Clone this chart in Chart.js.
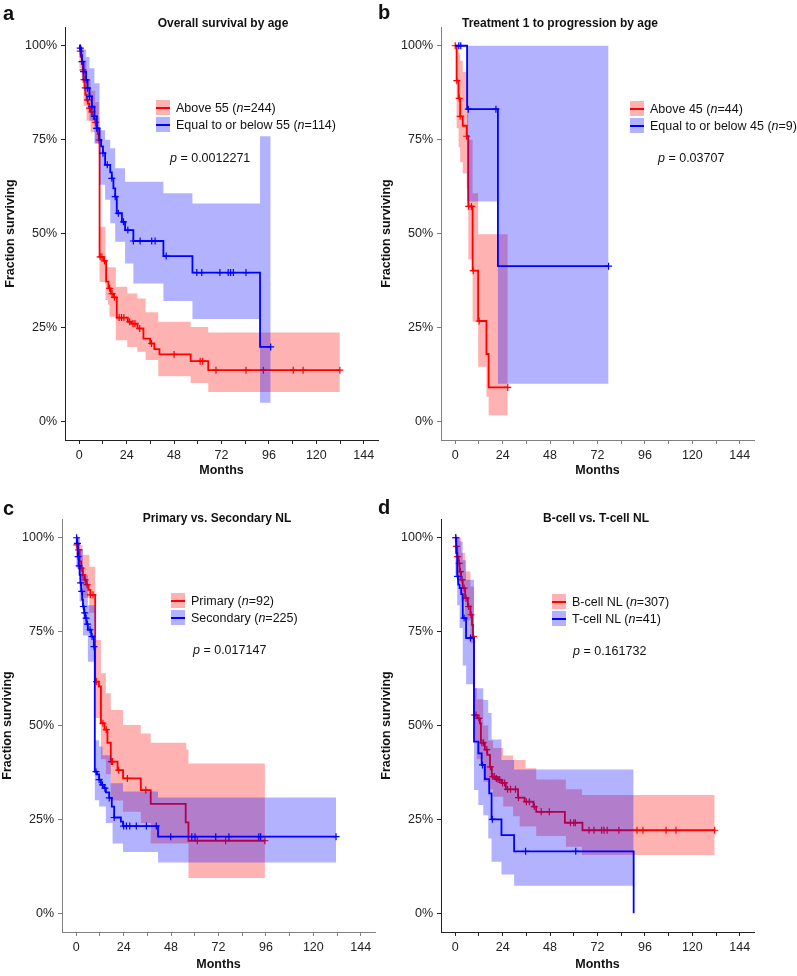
<!DOCTYPE html>
<html lang="en">
<head>
<meta charset="UTF-8" />
<title>Survival curves</title>
<script src="https://cdn.jsdelivr.net/npm/chart.js@4.4.1/dist/chart.umd.min.js"></script>
<style>
  body { margin: 0; width: 797px; height: 976px; position: relative; background: #fff; overflow: hidden;
         font-family: "Liberation Sans", Arial, Helvetica, sans-serif; color: #111; }
  canvas.panel { position: absolute; }
  .tag { position: absolute; font-weight: bold; font-size: 20px; line-height: 20px; }
  .title { position: absolute; font-weight: bold; font-size: 12px; line-height: 14px; white-space: nowrap; transform: translateX(-50%); }
  .legend { position: absolute; font-size: 12.5px; white-space: nowrap; }
  .legend .row { display: flex; align-items: center; height: 17px; }
  .sw { width: 14px; height: 15px; position: relative; margin-right: 6px; }
  .sw i { position: absolute; left: 0; right: 0; top: 6.5px; height: 2px; }
  .pval { position: absolute; font-size: 12.5px; line-height: 15px; white-space: nowrap; }
</style>
</head>
<body>

<canvas id="pa" class="panel" width="398" height="488" style="left:0;top:0"></canvas>
<canvas id="pb" class="panel" width="398" height="488" style="left:376px;top:0"></canvas>
<canvas id="pc" class="panel" width="398" height="488" style="left:-3px;top:492px"></canvas>
<canvas id="pd" class="panel" width="398" height="488" style="left:376px;top:492px"></canvas>

<div class="tag" style="left:3px;top:3px">a</div>
<div class="tag" style="left:378px;top:2px">b</div>
<div class="tag" style="left:3px;top:498px">c</div>
<div class="tag" style="left:378px;top:497px">d</div>

<div class="title" style="left:223px;top:16px">Overall survival by age</div>
<div class="title" style="left:560px;top:16px">Treatment 1 to progression by age</div>
<div class="title" style="left:217px;top:511px">Primary vs. Secondary NL</div>
<div class="title" style="left:596px;top:511px">B-cell vs. T-cell NL</div>

<div class="legend" style="left:156px;top:99px">
  <div class="row"><span class="sw" style="background:rgba(255,0,0,0.3)"><i style="background:#f00"></i></span>Above 55 (<i>n</i>=244)</div>
  <div class="row"><span class="sw" style="background:rgba(0,0,255,0.3)"><i style="background:#00f"></i></span>Equal to or below 55 (<i>n</i>=114)</div>
</div>
<div class="legend" style="left:630px;top:100px">
  <div class="row"><span class="sw" style="background:rgba(255,0,0,0.3)"><i style="background:#f00"></i></span>Above 45 (<i>n</i>=44)</div>
  <div class="row"><span class="sw" style="background:rgba(0,0,255,0.3)"><i style="background:#00f"></i></span>Equal to or below 45 (<i>n</i>=9)</div>
</div>
<div class="legend" style="left:171px;top:592px">
  <div class="row"><span class="sw" style="background:rgba(255,0,0,0.3)"><i style="background:#f00"></i></span>Primary (<i>n</i>=92)</div>
  <div class="row"><span class="sw" style="background:rgba(0,0,255,0.3)"><i style="background:#00f"></i></span>Secondary (<i>n</i>=225)</div>
</div>
<div class="legend" style="left:552px;top:593px">
  <div class="row"><span class="sw" style="background:rgba(255,0,0,0.3)"><i style="background:#f00"></i></span>B-cell NL (<i>n</i>=307)</div>
  <div class="row"><span class="sw" style="background:rgba(0,0,255,0.3)"><i style="background:#00f"></i></span>T-cell NL (<i>n</i>=41)</div>
</div>

<div class="pval" style="left:170px;top:151px"><i>p</i> = 0.0012271</div>
<div class="pval" style="left:658px;top:151px"><i>p</i> = 0.03707</div>
<div class="pval" style="left:193px;top:643px"><i>p</i> = 0.017147</div>
<div class="pval" style="left:573px;top:644px"><i>p</i> = 0.161732</div>

<script>
  // axis ticks
  const xTickVals = [0, 12, 24, 36, 48, 60, 72, 84, 96, 108, 120, 132, 144];
  const yTickVals = [0, 25, 50, 75, 100];

  // ---- a: overall survival by age ----
  const aRedTime = [0, 0.3, 0.8, 1.3, 1.8, 2.2, 2.7, 3.1, 3.7, 4.3, 5, 5.8, 6.5, 7.3, 8.1, 8.8, 9.4, 9.9, 10.3, 12.3, 13.6, 14.8, 16, 17.3, 19, 24.6, 26.5, 29.5, 32.5, 35.9, 38, 40.6, 56.4, 65.3, 131.9];
  const aRedSurv = [100, 98.6, 97, 95.2, 93.6, 91, 88.8, 86.9, 85.6, 84.6, 83.4, 82.4, 81.4, 80.5, 79.6, 78, 76.5, 74.9, 43.8, 42.7, 37.2, 35.4, 34, 33, 27.6, 26.5, 26, 24.7, 22, 20.7, 19.2, 17.8, 16, 13.6, 13.6];
  const aRedCens = [0.5, 1.9, 2.4, 3.0, 4.2, 5.2, 6.4, 8.3, 8.9, 10.1, 10.6, 11.5, 12.8, 15.4, 16.6, 17.8, 20.2, 21.4, 22.6, 25.5, 27.2, 28.2, 30.6, 36.6, 48, 61.2, 62.5, 69.2, 84.4, 93.2, 108.3, 113.3, 131.9];
  const aRedCiTime = [0, 1.3, 2.2, 3.7, 5.8, 8.1, 9.9, 10.3, 13.3, 14.5, 15.3, 18.5, 24.3, 29.4, 33.6, 40, 56.4, 65.3, 131.9];
  const aRedCiHi = [100, 99.5, 96, 91, 88, 85, 81, 51.8, 41, 41, 41, 35.8, 34, 32.7, 29, 26.5, 25.1, 23.6, 23.6];
  const aRedCiLo = [94, 90, 84, 80, 77, 74, 71, 37.1, 32.3, 31, 27.8, 21.6, 19.8, 18.5, 16.3, 12, 10.2, 7.8, 7.8];

  const aBlueTime = [0, 0.5, 1, 1.4, 2.2, 3.5, 4.2, 5.2, 6.4, 7.7, 8.9, 10.3, 11.1, 12, 13.1, 15.7, 16.5, 17.3, 18.2, 19, 21.6, 23.2, 27.4, 42.6, 57.3, 91.5, 96.9];
  const aBlueSurv = [100, 99.4, 97.5, 95.8, 93.1, 90.9, 88.7, 86.5, 83.8, 81.2, 78, 74.9, 73.2, 71.4, 68.3, 66.3, 64.7, 62, 59.8, 55.4, 53.1, 50.9, 48, 44, 39.6, 19.8, 19.8];
  const aBlueCens = [0.5, 1.4, 2.2, 3.5, 4.2, 5.2, 6.4, 7.7, 8.9, 12, 14.2, 16.5, 18.2, 19.8, 22.4, 24.6, 27.4, 30.8, 36.7, 38.4, 44, 59.5, 62, 71.2, 75.4, 76.6, 78, 84.4, 96.9];
  const aBlueCiTime = [0, 1.4, 3.5, 5.2, 7.7, 10.3, 13.1, 15.7, 18.2, 23.2, 27.4, 42.6, 57.3, 91.5, 96.9];
  const aBlueCiHi = [100, 99, 97, 94, 90, 77.5, 75, 72.7, 67.4, 63.8, 63.8, 60.7, 58, 75.9, 75.9];
  const aBlueCiLo = [97, 91, 85, 80, 74, 63, 59, 52.7, 47.8, 42, 36.7, 32, 27.2, 4.9, 4.9];

  // ---- b: treatment 1 to progression by age ----
  const bRedTime = [0, 0.7, 1.7, 2.5, 3.8, 5.8, 6.6, 8.8, 11.6, 15.8, 16.9, 26.6];
  const bRedSurv = [100, 90.7, 86, 81.2, 78.7, 75.9, 57.2, 40.1, 26.7, 17.9, 9, 9];
  const bRedCens = [0, 0.8, 2, 2.5, 5.8, 6.8, 8.2, 9.1, 12.1, 26.6];
  const bRedCiTime = [0, 0.7, 1.7, 2.5, 3.8, 5.8, 6.6, 8.8, 11.6, 15.8, 16.9, 26.6];
  const bRedCiHi = [100, 100, 98, 96, 93, 91, 75, 60.7, 49.8, 49.8, 49.8, 49.8];
  const bRedCiLo = [100, 78, 73, 69, 66, 62, 43.1, 26.5, 14.5, 6.5, 1.6, 1.6];

  const bBlueTime = [0, 6, 21.6, 77.6];
  const bBlueSurv = [100, 83.1, 41.3, 41.3];
  const bBlueCens = [1.8, 2.8, 6.6, 20.6, 77.6];
  const bBlueCiTime = [0, 6, 21.6, 77.6];
  const bBlueCiHi = [100, 100, 100, 100];
  const bBlueCiLo = [100, 58.5, 10, 10];

  // ---- c: primary vs secondary ----
  const cRedTime = [0, 0.3, 0.8, 1.7, 2.5, 3.4, 4.2, 5.1, 6.2, 7.2, 9.6, 11.5, 12.5, 14.3, 15.8, 17.5, 20.9, 23.7, 32.7, 37.7, 55.4, 56.8, 95.5];
  const cRedSurv = [100, 98.1, 96.8, 93.7, 91.9, 90.1, 88.8, 87.5, 86.1, 84.8, 61.7, 60.4, 50.6, 48.9, 45.4, 40.4, 38.1, 35.9, 32.8, 29.1, 24.2, 19.3, 19.3];
  const cRedCens = [0.3, 1.2, 2.5, 3.4, 4.5, 5.5, 7.2, 8.5, 10.2, 13.5, 15.2, 17.8, 18.4, 21.5, 25.9, 35.2, 61.3, 75.6, 95.5];
  const cRedCiTime = [0, 1.7, 3.2, 6.6, 9.6, 12.5, 15, 17.5, 23.7, 32.7, 37.7, 55.7, 56.8, 95.5];
  const cRedCiHi = [100, 98, 95.5, 92.3, 72.8, 63.9, 58.6, 54.1, 50.1, 47.9, 45.4, 43.6, 39.9, 39.9];
  const cRedCiLo = [95, 89, 84, 80, 52, 41, 37, 30, 27, 24, 18.6, 18.6, 9.4, 9.4];

  const cBlueTime = [0, 0.3, 0.8, 1.2, 1.7, 2.1, 2.5, 3, 3.4, 4, 4.5, 5.2, 5.9, 7.6, 8.9, 9.4, 10.5, 11.6, 12.5, 14.1, 15, 16.7, 18, 19.2, 22.6, 23.7, 41.4, 131.5];
  const cBlueSurv = [100, 98.5, 95, 92.5, 90.1, 88, 85.7, 83.5, 81.7, 80, 78.6, 77, 75.5, 73.7, 71, 37.7, 37, 35.6, 34.2, 33.3, 32.2, 30.7, 28.4, 25.5, 24.4, 23.2, 20.4, 20.4];
  const cBlueCens = [0.2, 0.6, 1, 1.5, 2.2, 2.8, 3.6, 4.3, 5, 5.7, 7, 8, 9, 10, 11.6, 13.3, 14.5, 16.7, 19.2, 24, 25.4, 27.1, 30.4, 35.5, 40.5, 47.8, 58.5, 60.1, 70.6, 77.3, 92.4, 93.3, 131.5];
  const cBlueCiTime = [0, 1.7, 3.4, 5.9, 9.4, 11.6, 13.3, 15, 17.5, 18.4, 23.7, 41.4, 131.5];
  const cBlueCiHi = [100, 97, 90, 82, 46.1, 44.4, 42.1, 42.1, 34.6, 34.6, 32.4, 30.8, 30.8];
  const cBlueCiLo = [92, 83, 74, 67, 30.1, 28.4, 28.4, 24, 24, 18.6, 16.3, 13.5, 13.5];

  // ---- d: B-cell vs T-cell ----
  const dRedTime = [0, 0.3, 0.5, 1, 1.7, 2.2, 3, 3.8, 5, 6.4, 7.7, 8.5, 9, 9.5, 11.2, 12.5, 13, 15, 16.2, 17.6, 18.5, 20.1, 21.7, 23.4, 25.6, 31.8, 35.1, 39.6, 41, 55.5, 64.4, 131.3];
  const dRedSurv = [100, 99, 97.7, 95, 93.2, 91, 88.8, 86.6, 83.9, 81.7, 79.5, 76.8, 73.7, 52.8, 51.9, 50.6, 45.4, 43.6, 42.2, 39, 36.4, 35.9, 35.6, 34.7, 33, 30.8, 29.7, 28.4, 27, 24.1, 22.1, 22.1];
  const dRedCens = [0.2, 0.6, 1.2, 2, 2.6, 3.5, 4.5, 5.5, 6.8, 8, 9.2, 9.7, 10.5, 12, 13.5, 14.3, 16, 17.8, 19, 19.8, 20.8, 21.7, 22.5, 24, 25, 26.5, 28, 30.5, 32, 36, 37.5, 40, 43.5, 47.6, 58.3, 60, 60.8, 67.7, 70.2, 74.1, 75.3, 76.9, 82.8, 92, 95, 106.7, 111.7, 131.3];
  const dRedCiTime = [0, 1, 3, 5, 7.7, 9.5, 10.9, 14.2, 16.7, 19.2, 24.3, 29.3, 32.6, 35.6, 41, 56, 64.1, 131.3];
  const dRedCiHi = [100, 100, 96, 91, 87, 60, 57, 50, 46, 44, 42, 40.8, 40.8, 38.6, 35.6, 33, 31.5, 31.5];
  const dRedCiLo = [96, 88, 83, 78, 72, 46, 41, 35, 33, 31, 28.4, 25.8, 23.1, 23.1, 20.6, 17.7, 15.5, 15.5];

  const dBlueTime = [0, 0.5, 1, 1.5, 2.2, 3, 3.8, 5.5, 9.5, 11.7, 13.4, 15, 17.2, 18.4, 23.4, 29.8, 90.3];
  const dBlueSurv = [100, 96, 89.7, 87.5, 86.6, 85, 78.6, 73.3, 45.7, 42.6, 39.5, 35.7, 31.9, 25, 20.8, 16.5, 0];
  const dBlueCens = [0.3, 1.2, 4.5, 7.7, 13.8, 18.8, 35.6, 61];
  const dBlueCiTime = [0, 1, 2.2, 3.8, 5.5, 9.5, 11.7, 14.2, 16.7, 18.4, 23.4, 29.8, 90.3];
  const dBlueCiHi = [100, 100, 99, 94, 88.8, 59.9, 59.9, 56.8, 53.3, 46.3, 40.8, 38.3, 38.3];
  const dBlueCiLo = [90, 82, 76, 66, 61, 32.8, 28.8, 26.1, 19.9, 13.7, 10.3, 7.3, 7.3];

  const RED = '#ff0000', BLUE = '#0000ff';
  const RED_BAND = 'rgba(255,0,0,0.3)', BLUE_BAND = 'rgba(0,0,255,0.3)';
  const FONT = '"Liberation Sans", Arial, Helvetica, sans-serif';

  // survival value in effect at time t (step function)
  function stepAt(ts, vs, t) {
    let v = vs[0];
    for (let i = 0; i < ts.length; i++) if (ts[i] <= t) v = vs[i];
    return v;
  }
  const pts = (ts, vs) => ts.map((t, i) => ({ x: t, y: vs[i] }));

  // band (upper+lower), step line, censor marks; lower `base` = drawn on top
  function groupSets(time, surv, cens, ciTime, ciHi, ciLo, color, band, fillTo, base) {
    return [
      { data: pts(ciTime, ciHi), stepped: true, borderColor: 'rgba(0,0,0,0)', borderWidth: 0,
        pointRadius: 0, fill: fillTo, backgroundColor: band, order: base + 2 },
      { data: pts(ciTime, ciLo), stepped: true, borderColor: 'rgba(0,0,0,0)', borderWidth: 0,
        pointRadius: 0, fill: false, order: base + 2 },
      { data: pts(time, surv), stepped: true, borderColor: color, borderWidth: 1.8,
        pointRadius: 0, fill: false, order: base + 1 },
      { data: cens.map(t => ({ x: t, y: stepAt(time, surv, t) })), showLine: false,
        pointStyle: 'cross', pointRadius: 3.5, pointBorderWidth: 1.2, pointBorderColor: color,
        pointBackgroundColor: color, order: base }
    ];
  }

  function makePanel(id, red, blue, axisColor, monthsPad) {
    const datasets = [
      ...groupSets(...red, RED, RED_BAND, 1, 3),
      ...groupSets(...blue, BLUE, BLUE_BAND, 5, 0)
    ];
    new Chart(document.getElementById(id), {
      type: 'line',
      data: { datasets },
      options: {
        responsive: false,
        animation: false,
        events: [],
        layout: { padding: { left: 0, top: 27, right: 20, bottom: 0 } },
        plugins: { legend: { display: false }, tooltip: { enabled: false } },
        scales: {
          x: {
            type: 'linear', min: -7.2, max: 151.2,
            afterBuildTicks: s => { s.ticks = xTickVals.map(v => ({ value: v })); },
            afterFit: s => { s.height = 48; },
            ticks: { autoSkip: false, maxRotation: 0, padding: 4, color: '#222',
                     font: { family: FONT, size: 12.5 },
                     callback: v => (v % 24 === 0 ? String(v) : '') },
            grid: { drawOnChartArea: false, tickLength: 4, color: axisColor },
            border: { color: axisColor, width: 1 },
            title: { display: true, text: 'Months', color: '#111',
                     font: { family: FONT, size: 12.5, weight: 'bold' }, padding: { top: 0, bottom: monthsPad } }
          },
          y: {
            type: 'linear', min: -5, max: 105,
            afterBuildTicks: s => { s.ticks = yTickVals.map(v => ({ value: v })); },
            afterFit: s => { s.width = 65; },
            ticks: { padding: 4, color: '#222', font: { family: FONT, size: 12.5 },
                     callback: v => v + '%' },
            grid: { drawOnChartArea: false, tickLength: 4, color: axisColor },
            border: { color: axisColor, width: 1 },
            title: { display: true, text: 'Fraction surviving', color: '#111',
                     font: { family: FONT, size: 12.5, weight: 'bold' }, padding: { top: 3, bottom: 0 } }
          }
        }
      }
    });
  }

  makePanel('pa',
    [aRedTime, aRedSurv, aRedCens, aRedCiTime, aRedCiHi, aRedCiLo],
    [aBlueTime, aBlueSurv, aBlueCens, aBlueCiTime, aBlueCiHi, aBlueCiLo], '#222', 10);
  makePanel('pb',
    [bRedTime, bRedSurv, bRedCens, bRedCiTime, bRedCiHi, bRedCiLo],
    [bBlueTime, bBlueSurv, bBlueCens, bBlueCiTime, bBlueCiHi, bBlueCiLo], '#808080', 10);
  makePanel('pc',
    [cRedTime, cRedSurv, cRedCens, cRedCiTime, cRedCiHi, cRedCiLo],
    [cBlueTime, cBlueSurv, cBlueCens, cBlueCiTime, cBlueCiHi, cBlueCiLo], '#808080', 8);
  makePanel('pd',
    [dRedTime, dRedSurv, dRedCens, dRedCiTime, dRedCiHi, dRedCiLo],
    [dBlueTime, dBlueSurv, dBlueCens, dBlueCiTime, dBlueCiHi, dBlueCiLo], '#222', 8);
</script>
</body>
</html>
